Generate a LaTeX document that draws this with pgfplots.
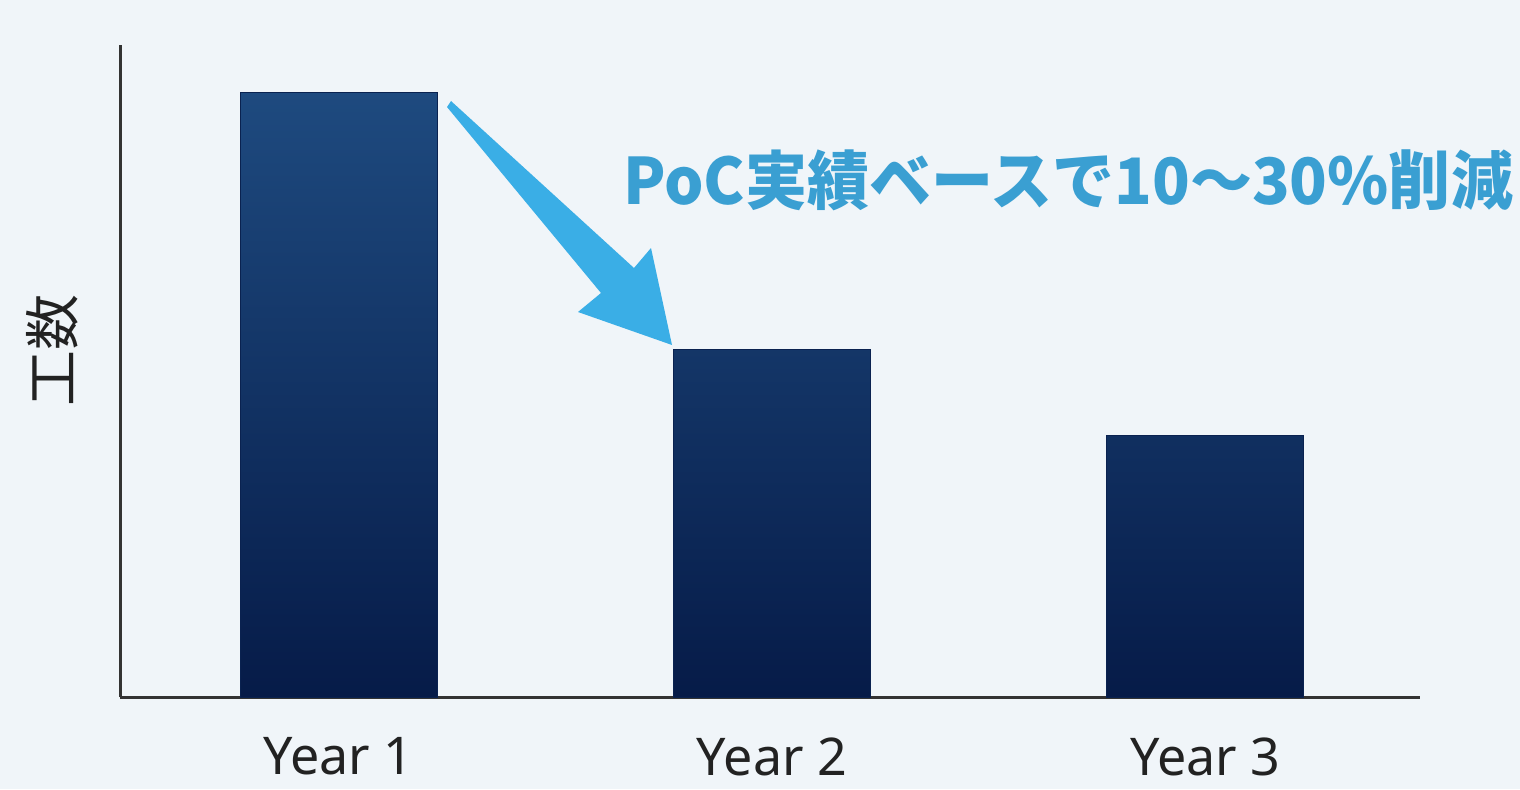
\documentclass[border=0pt]{standalone}
\usepackage{fontspec}
\setmainfont{Noto Sans}
\newfontfamily\cjk{Noto Sans CJK JP}
\usepackage{graphicx}
\usepackage{pgfplots}
\pgfplotsset{compat=1.18}
\definecolor{bgc}{HTML}{F0F5F9}
\definecolor{bartop}{HTML}{1E4A7F}
\definecolor{barbot}{HTML}{061B48}
\definecolor{baredge}{HTML}{0A2250}
\definecolor{arrowc}{HTML}{3AAEE6}
\definecolor{annot}{HTML}{3A9FD2}
\definecolor{axisc}{HTML}{333333}
\definecolor{labc}{HTML}{222222}
\begin{document}
\begin{tikzpicture}
\fill[bgc] (0,0) rectangle (760pt,394.5pt);
\useasboundingbox (0,0) rectangle (760pt,394.5pt);
\begin{axis}[
  at={(60pt,46pt)}, anchor=south west,
  scale only axis, width=650pt, height=326pt,
  xmin=-0.5043, xmax=2.4958, ymin=0, ymax=107.77,
  axis x line=bottom, axis y line=left,
  axis line style={-, axisc, line width=1.5pt},
  xtick={0,1,2}, xticklabels={Year 1, Year 2, Year 3},
  ytick=\empty, major tick length=0pt,
  xticklabel style={font=\fontsize{26}{30}\selectfont, text=labc, inner sep=0pt, anchor=north, yshift=-20pt},
  ylabel={\cjk 工数},
  ylabel style={font=\fontsize{28}{32}\selectfont, text=labc, at={(axis description cs:-0.0523,0.532)}, anchor=center, inner sep=0pt},
  clip=false,
]
\addplot[ybar, bar width=98.5pt, draw=baredge, line width=0.4pt, top color=bartop, bottom color=barbot]
  coordinates {(0,100) (1,57.5) (2,43.3)};
\end{axis}
\begin{scope}[x=0.5pt, y=-0.5pt, shift={(0,394.5pt)}]
  \fill[arrowc] (451,101) -- (634,268) -- (651,248) -- (672,345) -- (578,312) -- (601,293) -- (447,107) -- cycle;
  \node[font=\cjk\bfseries\fontsize{32}{38}\selectfont, text=annot, inner sep=0pt] at (1068,180) {\resizebox{445pt}{\height}{PoC実績ベースで10〜30\%削減}};
\end{scope}
\end{tikzpicture}
\end{document}
